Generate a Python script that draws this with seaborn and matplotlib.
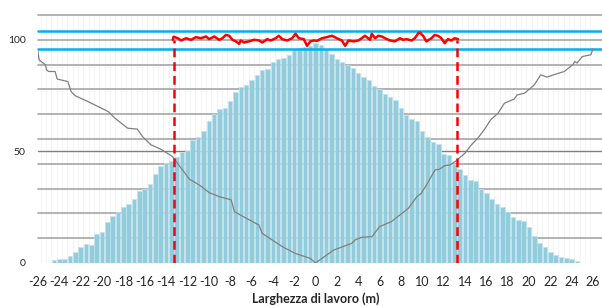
import numpy as np
import pandas as pd
import matplotlib
matplotlib.use("Agg")
import matplotlib.pyplot as plt
import seaborn as sns

# ---------------- data ----------------
bar_x = np.arange(-24.5, 24.51, 0.5)
bar_left = [1.3, 1.6, 1.8, 3.0, 4.8, 7.2, 8.4, 7.9, 13.0, 13.9, 18.2, 21.1, 23.0, 25.1,
            26.5, 28.6, 32.4, 33.2, 35.3, 39.9, 43.6, 44.7, 45.6, 47.7, 49.6, 50.4, 55.2,
            56.5, 59.2, 63.8, 66.7, 68.9, 69.4, 72.6, 76.7, 78.9, 79.8, 82.2, 84.2, 86.5,
            86.7, 90.1, 91.6, 91.9, 93.4, 95.5, 96.3, 96.9, 97.3]
bar_right = [98.7, 97.5, 95.9, 93.6, 91.6, 89.9, 88.6, 87.3, 85.3, 83.4, 82.2, 79.2, 77.9,
             75.8, 74.3, 73.0, 69.6, 66.1, 64.4, 63.8, 59.1, 56.5, 54.4, 53.1, 48.9, 48.4,
             44.4, 42.2, 39.5, 37.1, 36.8, 33.0, 31.3, 28.6, 26.3, 25.0, 22.7, 20.8, 19.3,
             19.0, 16.0, 12.3, 8.8, 7.2, 4.8, 3.4, 2.5, 2.1, 1.6, 0.8]
bar_values = bar_left + bar_right

gray_x = [-26.0, -25.9, -25.9, -25.3, -25.2, -25.0, -24.4, -24.2, -23.2, -22.9, -22.5,
          -21.3, -19.4, -18.8, -17.6, -16.7, -16.2, -15.4, -14.5, -13.4, -12.7, -11.8,
          -10.9, -9.95, -9.0, -7.9, -7.6, -6.2, -5.3, -5.0, -3.1, -1.9, -0.5, 0.0, 1.7,
          3.4, 3.7, 4.3, 5.3, 6.0, 7.1, 8.7, 9.5, 9.9, 10.4, 11.2, 11.6, 12.1, 12.6, 13.2,
          14.0, 14.6, 15.2, 15.8, 16.4, 17.1, 17.7, 18.6, 18.9, 19.6, 20.5, 21.1, 21.7,
          22.3, 23.3, 24.1, 24.3, 24.5, 25.0, 25.8, 26.0]
gray_y = [94.8, 92.5, 89.5, 88.8, 86.5, 85.8, 85.8, 82.4, 81.3, 76.8, 74.9, 72.3, 67.8,
          64.9, 60.4, 60.0, 56.6, 52.9, 51.0, 47.7, 43.2, 37.5, 35.0, 31.5, 29.7, 28.3,
          23.0, 19.3, 17.0, 13.3, 7.3, 4.3, 2.1, 0.0, 5.8, 8.8, 10.3, 11.5, 11.8, 16.3,
          18.5, 24.5, 29.7, 31.2, 35.0, 41.7, 42.0, 43.6, 43.9, 45.9, 49.2, 52.9, 55.9,
          59.6, 64.1, 67.1, 71.6, 73.4, 75.3, 76.1, 79.8, 84.3, 83.3, 84.3, 85.8, 88.8,
          90.3, 89.6, 92.5, 93.3, 96.0]

red_x = [-13.37, -13.3, -12.90, -12.59, -12.13, -11.66, -11.20, -10.73, -10.26, -9.95,
         -9.49, -9.02, -8.71, -8.40, -8.09, -7.78, -7.47, -7.16, -7.00, -6.69, -6.22,
         -5.76, -5.29, -4.98, -4.52, -4.20, -3.74, -3.43, -3.12, -2.65, -2.19, -1.87,
         -1.56, -1.10, -0.79, -0.48, -0.16, 0.14, 0.61, 1.07, 1.54, 2.00, 2.47, 2.78,
         3.09, 3.56, 4.02, 4.33, 4.64, 5.11, 5.27, 5.58, 5.89, 6.20, 6.51, 6.98, 7.44,
         7.91, 8.22, 8.53, 9.00, 9.31, 9.62, 9.77, 10.08, 10.39, 10.86, 11.17, 11.48,
         11.79, 12.10, 12.41, 12.72, 13.03, 13.35]
red_y = [100.0, 101.4, 100.7, 99.7, 100.7, 100.0, 101.2, 100.7, 101.5, 100.3, 101.5,
         100.0, 100.7, 102.2, 101.8, 100.0, 99.3, 98.2, 99.7, 98.8, 99.3, 100.0, 99.7,
         98.8, 100.3, 99.7, 100.7, 101.8, 100.3, 99.7, 100.7, 102.7, 100.7, 100.3, 97.3,
         99.3, 99.7, 99.5, 100.7, 101.2, 101.8, 100.7, 99.7, 97.3, 99.7, 99.3, 99.7,
         100.7, 101.8, 100.0, 102.7, 100.7, 101.8, 101.5, 100.7, 99.7, 99.3, 100.7,
         100.0, 100.3, 99.7, 100.7, 102.9, 103.3, 101.8, 99.3, 100.7, 102.2, 101.8,
         100.7, 98.5, 100.3, 99.7, 100.7, 100.3]

working_width = [-13.3, 13.3]
band_limits = [96.0, 104.0]
x_ticks = list(range(-26, 27, 2))
y_ticks = [0, 50, 100]

# ---------------- plot ----------------
sns.set_theme(style="white")
plt.rcParams['font.family'] = ['Lato', 'DejaVu Sans']

fig = plt.figure(figsize=(6.02, 3.06), dpi=100)
ax = fig.add_axes([38 / 602, 43 / 306, 555 / 602, 248 / 306])

ymax = 111.11
ext = (602 - 38) / 555  # lines run on to the right edge of the picture
# light vertical grid between bars
for xv in np.arange(-25.75, 26.0, 0.5):
    ax.axvline(xv, color='#F2F2F2', lw=0.6, zorder=0)
# horizontal grid (secondary scale lines)
for k in range(1, 11):
    ax.axhline(ymax * k / 10, xmax=ext, color='#A6A6A6', lw=1.2, zorder=1, clip_on=False)
ax.axhline(50, xmax=ext, color='#7F7F7F', lw=1.0, zorder=1, clip_on=False)

df = pd.DataFrame({"x": bar_x, "v": bar_values})
sns.barplot(data=df, x="x", y="v", native_scale=True, width=0.85,
            color='#93CDDD', edgecolor='#C3E3EC', linewidth=0.5,
            saturation=1, ax=ax, zorder=2)

for yb in band_limits:
    ax.axhline(yb, xmax=ext, color='#00B0F0', lw=1.8, zorder=4, clip_on=False)

sns.lineplot(x=gray_x, y=gray_y, sort=False, color='#808080', lw=0.9, ax=ax, zorder=5)
sns.lineplot(x=red_x, y=red_y, sort=False, color='#FF0000', lw=1.8, ax=ax, zorder=6)
for xw in working_width:
    ax.plot([xw, xw], [0, 100], color='#FF0000', lw=1.8, ls=(0, (3.5, 2)), zorder=6)

ax.set_xlim(-26, 26)
ax.set_ylim(0, ymax)
ax.set_xticks(x_ticks)
ax.set_xticklabels([str(t) for t in x_ticks], fontsize=9, color='#262626')
ax.set_yticks(y_ticks)
ax.set_yticklabels([str(t) for t in y_ticks], fontsize=7.5, color='#262626')
ax.tick_params(axis='x', length=0, pad=9)
ax.tick_params(axis='y', length=0, pad=9)
for s in ax.spines.values():
    s.set_visible(False)
ax.grid(False)
ax.set_xlabel("")
ax.set_ylabel("")
fig.text(316 / 602, 1 / 306, "Larghezza di lavoro (m)", fontsize=9, fontweight='bold',
         color='#262626', ha='center', va='bottom')

fig.savefig("out.png", dpi=100)
